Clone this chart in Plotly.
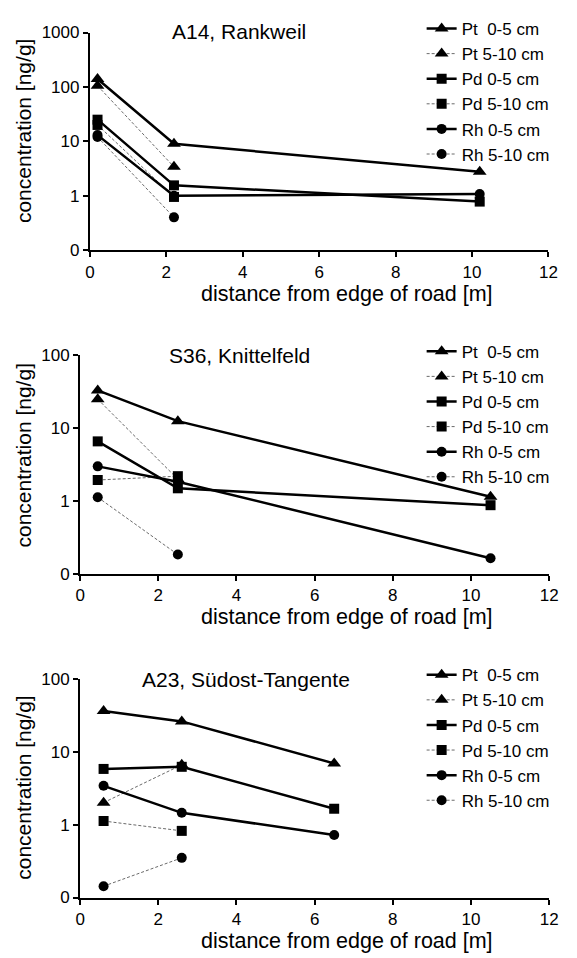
import plotly.graph_objects as go

W, H = 577, 958

# ---------------- data ----------------
panel_titles = ["A14, Rankweil", "S36, Knittelfeld", "A23, Südost-Tangente"]
series_names = ["Pt\u00a0 0-5 cm", "Pt 5-10 cm", "Pd 0-5 cm", "Pd 5-10 cm", "Rh 0-5 cm", "Rh 5-10 cm"]
x_title = "distance from edge of road [m]"
y_title = "concentration [ng/g]"

# A14, Rankweil
a14_x = [0.2, 2.2, 10.2]
a14_pt_0_5 = [140, 9.0, 2.75]
a14_pt_5_10 = [105, 3.4]
a14_pd_0_5 = [25, 1.55, 0.78]
a14_pd_5_10 = [20, 0.95]
a14_rh_0_5 = [13, 1.0, 1.07]
a14_rh_5_10 = [12, 0.4]

# S36, Knittelfeld
s36_x = [0.45, 2.5, 10.5]
s36_pt_0_5 = [33, 12.5, 1.15]
s36_pt_5_10 = [25, 2.0]
s36_pd_0_5 = [6.6, 1.5, 0.88]
s36_pd_5_10 = [1.95, 2.2]
s36_rh_0_5 = [3.0, 1.85, 0.165]
s36_rh_5_10 = [1.13, 0.185]

# A23, Südost-Tangente
a23_x = [0.6, 2.6, 6.5]
a23_pt_0_5 = [36, 26, 6.9]
a23_pt_5_10 = [2.0, 6.6]
a23_pd_0_5 = [5.8, 6.2, 1.65]
a23_pd_5_10 = [1.12, 0.82]
a23_rh_0_5 = [3.4, 1.45, 0.72]
a23_rh_5_10 = [0.143, 0.35]

x_tickvals = [0, 2, 4, 6, 8, 10, 12]
y_tickvals = [0.1, 1, 10, 100, 1000]
y_ticktext = ["0", "1", "10", "100", "1000"]

panels = [
    (a14_x, [a14_pt_0_5, a14_pt_5_10, a14_pd_0_5, a14_pd_5_10, a14_rh_0_5, a14_rh_5_10], 3),
    (s36_x, [s36_pt_0_5, s36_pt_5_10, s36_pd_0_5, s36_pd_5_10, s36_rh_0_5, s36_rh_5_10], 2),
    (a23_x, [a23_pt_0_5, a23_pt_5_10, a23_pd_0_5, a23_pd_5_10, a23_rh_0_5, a23_rh_5_10], 2),
]

# ---------------- styles / layout ----------------
FONT = "Liberation Sans, Arial, sans-serif"
symbols = ["triangle-up", "triangle-up", "square", "square", "circle", "circle"]
msizes = [12, 12, 10, 10, 10, 10]

def px_x(p):
    return p / W

def px_y(p):
    return 1 - p / H

# pixel boxes: (left, right, top, bottom)
boxes = [(87, 557, 24, 246), (77, 557.7, 353.3, 576.5), (77, 557.7, 683.3, 906.5)]
title_pos = [(240, 23), (240, 354), (247, 684)]
xtitle_y = [291, 620, 951]
ytitle_y = [125, 456, 795]

fig = go.Figure()
layout = dict(
    width=W, height=H, margin=dict(l=0, r=0, t=0, b=0),
    paper_bgcolor="white", plot_bgcolor="white",
    font=dict(family=FONT, color="black", size=17),
    showlegend=True,
)
annotations = []

for i, (xs, series, ymax) in enumerate(panels):
    k = "" if i == 0 else str(i + 1)
    leg = "legend" if i == 0 else "legend" + str(i + 1)
    for j, (name, ys) in enumerate(zip(series_names, series)):
        solid = j % 2 == 0
        fig.add_trace(go.Scatter(
            x=xs[:len(ys)], y=ys, name=name, mode="lines+markers",
            xaxis="x" + k, yaxis="y" + k, legend=leg,
            line=dict(color="black" if solid else "#444",
                      width=2.5 if solid else 0.8,
                      dash="solid" if solid else "3px,2px"),
            marker=dict(symbol=symbols[j], size=msizes[j], color="black"),
            cliponaxis=False,
        ))
    l, r, t, b = boxes[i]
    layout["xaxis" + k] = dict(
        domain=[px_x(l), px_x(r)], range=[0, 12], anchor="y" + k,
        tickvals=x_tickvals, ticks="outside", ticklen=5, tickwidth=2,
        tickcolor="black", showline=True, linewidth=2, linecolor="black",
        showgrid=False, zeroline=False, tickfont=dict(size=17),
    )
    layout["yaxis" + k] = dict(
        domain=[px_y(b), px_y(t)], type="log", range=[-1, ymax], anchor="x" + k,
        tickvals=y_tickvals, ticktext=y_ticktext, ticks="outside", ticklen=5,
        tickwidth=2, tickcolor="black", showline=True, linewidth=2,
        linecolor="black", showgrid=False, zeroline=False, tickfont=dict(size=17),
    )
    layout[leg] = dict(
        x=px_x(427), xanchor="left", y=px_y(t - 22), yanchor="top",
        bgcolor="rgba(0,0,0,0)", font=dict(size=17, family=FONT),
        tracegroupgap=0,
    )
    tx, ty = title_pos[i]
    annotations.append(dict(text=panel_titles[i], x=px_x(tx), y=px_y(ty),
                            xref="paper", yref="paper", showarrow=False,
                            xanchor="center", yanchor="middle", font=dict(size=21)))
    annotations.append(dict(text=x_title, x=px_x(351), y=px_y(xtitle_y[i]),
                            xref="paper", yref="paper", showarrow=False,
                            xanchor="center", yanchor="middle", font=dict(size=21.5)))
    annotations.append(dict(text=y_title, x=px_x(19), y=px_y(ytitle_y[i]),
                            xref="paper", yref="paper", showarrow=False, textangle=-90,
                            xanchor="center", yanchor="middle", font=dict(size=21)))

layout["annotations"] = annotations
fig.update_layout(**layout)
fig.write_html("out.html")
